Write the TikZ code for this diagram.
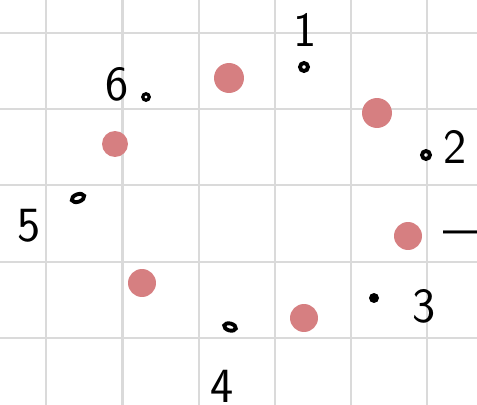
\documentclass[tikz,border=0pt]{standalone}
\usepackage{tikz}
\usetikzlibrary{positioning, shapes.geometric}
\usepackage{xcolor}
\definecolor{gridgray}{RGB}{218,218,218}
\definecolor{blobred}{RGB}{214,127,129}

\begin{document}
\begin{tikzpicture}[
    x=0.02cm, y=-0.02cm,
    gridline/.style={draw=gridgray, line width=1.7pt},
    blob/.style={circle, fill=blobred, inner sep=0pt, minimum size=0.56cm},
    ring/.style={circle, draw, line width=2.2pt, inner sep=0pt, minimum size=0.16cm},
    dotpt/.style={circle, fill, inner sep=0pt, minimum size=0.2cm},
    numlabel/.style={font=\sffamily\fontsize{28}{32}\selectfont, inner sep=0pt}
]
\useasboundingbox (0,0) rectangle (477,405);

% grid
\foreach \gx in {46,122.5,199,275,351,427}
    \draw[gridline] (\gx,0) -- (\gx,405);
\foreach \gy in {33,109,185,262,338}
    \draw[gridline] (0,\gy) -- (477,\gy);

% red blobs
\node[blob, minimum size=0.6cm] (b1) at (229,78) {};
\node[blob, minimum size=0.6cm] (b2) at (377,113) {};
\node[blob, minimum size=0.52cm] (b3) at (115,144) {};
\node[blob] (b4) at (408,236) {};
\node[blob] (b5) at (142,283) {};
\node[blob] (b6) at (304,318) {};

% numbered points
\node[ring] (p1) at (304,67) {};
\node[ring] (p2) at (426,155) {};
\node[dotpt] (p3) at (374,298) {};
\node[ring, ellipse, minimum width=0.24cm, minimum height=0.14cm, rotate=-15] (p4) at (230,327) {};
\node[ring, ellipse, minimum width=0.26cm, minimum height=0.15cm, rotate=20] (p5) at (78,198) {};
\node[ring, line width=1.8pt, minimum size=0.13cm] (p6) at (146,97) {};

\node[numlabel] (l1) at (305,30) {1};
\node[numlabel] (l2) at (455,147) {2};
\node[numlabel] (l3) at (424,306) {3};
\node[numlabel] (l4) at (222,386) {4};
\node[numlabel] (l5) at (29,226) {5};
\node[numlabel] (l6) at (117,84) {6};
\node[numlabel, anchor=west] (l7) at (443,238) {---};
\end{tikzpicture}
\end{document}
